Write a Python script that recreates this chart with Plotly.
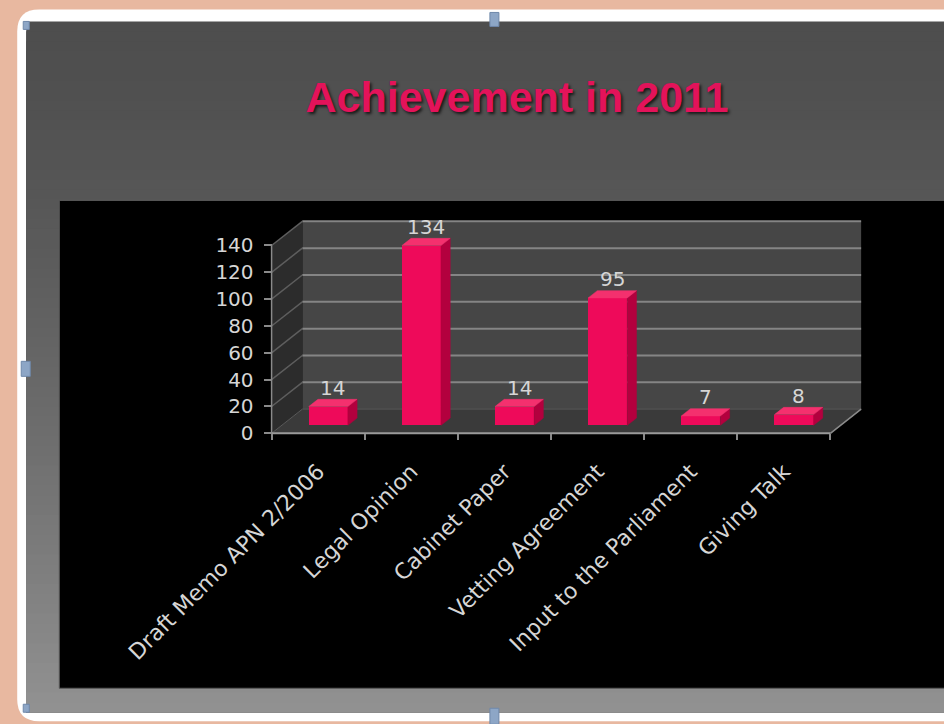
import plotly.graph_objects as go

# ---- chart data ----
categories = ["Draft Memo APN 2/2006", "Legal Opinion", "Cabinet Paper",
              "Vetting Agreement", "Input to the Parliament", "Giving Talk"]
values = [14, 134, 14, 95, 7, 8]
y_ticks = [0, 20, 40, 60, 80, 100, 120, 140]
title_text = "Achievement in 2011"

# ---- page geometry (pixels) ----
W, H = 944, 724
ORIGIN_PX = (272, 433)      # front-left corner of the floor
PX_PER_CAT = 93.0
PX_PER_UNIT = 1.342

# pseudo-3D depth: offset of the back plane, in axis units
DX = 0.33
DY = 18.0
Z0, Z1 = 0.33, 0.63          # depth span occupied by the bars
ZC = (Z0 + Z1) / 2
BAR_W = 0.42
YMAX = y_ticks[-1]
n = len(categories)

x_range = [-0.56, n - 0.5 + DX + 0.02]
y_range = [-2.0, YMAX + DY + 1.0]

L = ORIGIN_PX[0] - (-0.5 - x_range[0]) * PX_PER_CAT
pw = (x_range[1] - x_range[0]) * PX_PER_CAT
R = W - L - pw
bottom_px = ORIGIN_PX[1] + (0 - y_range[0]) * PX_PER_UNIT
B = H - bottom_px
ph = (y_range[1] - y_range[0]) * PX_PER_UNIT
T = H - B - ph


def fx(px):
    return (px - L) / pw


def fy(py):
    return (H - B - py) / ph


# ---- colours ----
SALMON = "#E8B8A0"
FRONT = "#EE0A5A"
SIDE = "#B3003E"
TOP = "#F4306E"
BACK_WALL = "#464646"
SIDE_WALL = "#2c2c2c"
FLOOR = "#3a3a3a"
GRID = "#858585"
TEXT = "#d6d6d6"

shapes = []

# white rounded frame
def rounded_rect(x0, y0, x1, y1, r):
    rx = r / pw
    ry = r / ph
    a0, a1 = fx(x0), fx(x1)
    b0, b1 = fy(y1), fy(y0)  # b0 bottom, b1 top in paper units
    return (f"M {a0 + rx},{b1} L {a1 - rx},{b1} Q {a1},{b1} {a1},{b1 - ry} "
            f"L {a1},{b0 + ry} Q {a1},{b0} {a1 - rx},{b0} L {a0 + rx},{b0} "
            f"Q {a0},{b0} {a0},{b0 + ry} L {a0},{b1 - ry} Q {a0},{b1} {a0 + rx},{b1} Z")

shapes.append(dict(type="path", xref="paper", yref="paper", layer="below",
                   path=rounded_rect(18, 9, 980, 721, 22),
                   fillcolor="#ffffff", line=dict(width=0)))

# grey gradient panel: each band runs to the panel bottom so no seams show
panel_top, panel_bot = 21, 712
nb = 70
for k in range(nb):
    y0 = panel_top + (panel_bot - panel_top) * k / nb
    t = ((k + 0.5) / nb) ** 1.5
    g = int(round(78 + t * (146 - 78)))
    shapes.append(dict(type="rect", xref="paper", yref="paper", layer="below",
                       x0=fx(27), x1=fx(960), y0=fy(panel_bot), y1=fy(y0),
                       fillcolor=f"rgb({g},{g},{g})", line=dict(width=0)))

# black chart area
shapes.append(dict(type="rect", xref="paper", yref="paper", layer="below",
                   x0=fx(60), x1=fx(960), y0=fy(688), y1=fy(200),
                   fillcolor="#000000", line=dict(color="#5a5a5a", width=1)))

# selection handles on the frame
for (hx0, hy0, hx1, hy1) in [(490, 12, 499, 26), (22, 361, 31, 376),
                             (490, 708, 499, 724), (24, 21, 30, 29),
                             (24, 704, 30, 712)]:
    shapes.append(dict(type="rect", xref="paper", yref="paper", layer="below",
                       x0=fx(hx0), x1=fx(hx1), y0=fy(hy1), y1=fy(hy0),
                       fillcolor="#8da6c6", line=dict(color="#6f88aa", width=1)))

# ---- 3D walls in data coordinates ----
xl, xr = -0.5, n - 0.5

def poly(pts):
    return "M " + " L ".join(f"{x},{y}" for x, y in pts) + " Z"

shapes.append(dict(type="path", xref="x", yref="y", layer="below",
                   path=poly([(xl + DX, DY), (xr + DX, DY), (xr + DX, YMAX + DY), (xl + DX, YMAX + DY)]),
                   fillcolor=BACK_WALL, line=dict(width=0)))
shapes.append(dict(type="path", xref="x", yref="y", layer="below",
                   path=poly([(xl, 0), (xl + DX, DY), (xl + DX, YMAX + DY), (xl, YMAX)]),
                   fillcolor=SIDE_WALL, line=dict(width=0)))
shapes.append(dict(type="path", xref="x", yref="y", layer="below",
                   path=poly([(xl, 0), (xr, 0), (xr + DX, DY), (xl + DX, DY)]),
                   fillcolor=FLOOR, line=dict(color="#5a5a5a", width=1)))

for v in y_ticks[1:]:
    shapes.append(dict(type="line", xref="x", yref="y", layer="below",
                       x0=xl + DX, x1=xr + DX, y0=v + DY, y1=v + DY,
                       line=dict(color=GRID, width=2)))
    shapes.append(dict(type="line", xref="x", yref="y", layer="below",
                       x0=xl, x1=xl + DX, y0=v, y1=v + DY,
                       line=dict(color="#5e5e5e", width=1.5)))

# axis edges
shapes.append(dict(type="line", xref="x", yref="y", layer="below",
                   x0=xl, x1=xl, y0=0, y1=YMAX, line=dict(color="#8a8a8a", width=1.5)))
shapes.append(dict(type="line", xref="x", yref="y", layer="below",
                   x0=xl, x1=xr, y0=0, y1=0, line=dict(color="#9a9a9a", width=2)))
shapes.append(dict(type="line", xref="x", yref="y", layer="below",
                   x0=xr, x1=xr + DX, y0=0, y1=DY, line=dict(color="#8a8a8a", width=1.5)))

fig = go.Figure()

# front faces of the bars
fig.add_trace(go.Bar(
    x=[i + Z0 * DX for i in range(n)], y=values, base=Z0 * DY,
    width=BAR_W, marker=dict(color=FRONT, line=dict(width=0)),
    hoverinfo="skip", showlegend=False))

# side and top faces
side_x, side_y, top_x, top_y = [], [], [], []
dz = Z1 - Z0
for i, v in enumerate(values):
    fl = i + Z0 * DX - BAR_W / 2
    fr = i + Z0 * DX + BAR_W / 2
    side_x += [fr, fr + dz * DX, fr + dz * DX, fr, fr, None]
    side_y += [Z0 * DY, Z1 * DY, v + Z1 * DY, v + Z0 * DY, Z0 * DY, None]
    top_x += [fl, fr, fr + dz * DX, fl + dz * DX, fl, None]
    top_y += [v + Z0 * DY, v + Z0 * DY, v + Z1 * DY, v + Z1 * DY, v + Z0 * DY, None]

fig.add_trace(go.Scatter(x=side_x, y=side_y, mode="lines", fill="toself",
                         fillcolor=SIDE, line=dict(color=SIDE, width=0.5),
                         hoverinfo="skip", showlegend=False))
fig.add_trace(go.Scatter(x=top_x, y=top_y, mode="lines", fill="toself",
                         fillcolor=TOP, line=dict(color=TOP, width=0.5),
                         hoverinfo="skip", showlegend=False))

# value labels above the bars
for i, v in enumerate(values):
    fig.add_annotation(x=i + ZC * DX, y=v + ZC * DY, text=str(v), showarrow=False,
                       yshift=15, font=dict(family="DejaVu Sans", size=20, color=TEXT))

fig.update_layout(
    width=W, height=H,
    margin=dict(l=L, r=R, t=T, b=B, pad=0),
    paper_bgcolor=SALMON,
    plot_bgcolor="rgba(0,0,0,0)",
    shapes=shapes,
    bargap=0,
    title=dict(text=f"<b>{title_text}</b>", x=517 / W, xanchor="center",
               y=1 - 97 / H, yanchor="middle", xref="container", yref="container",
               font=dict(family="Liberation Sans", size=43, color="#E3135A",
                         shadow="2px 2px 3px rgba(0,0,0,0.7)")),
    xaxis=dict(range=x_range, showgrid=False, zeroline=False, showline=False,
               tickmode="array", tickvals=list(range(n)), ticktext=categories,
               tickangle=-45, ticks="", ticklabelstandoff=20,
               tickfont=dict(family="DejaVu Sans", size=22, color=TEXT),
               anchor="free", position=fy(ORIGIN_PX[1]),
               minor=dict(tickmode="array", tickvals=[i - 0.5 for i in range(n + 1)],
                          ticks="outside", ticklen=6, tickcolor="#8a8a8a", tickwidth=1.5)),
    yaxis=dict(range=y_range, showgrid=False, zeroline=False, showline=False,
               tickmode="array", tickvals=y_ticks, ticks="outside", ticklen=8,
               tickcolor="#8a8a8a", tickwidth=1.5, ticklabelstandoff=6,
               tickfont=dict(family="DejaVu Sans", size=20, color=TEXT),
               anchor="free", position=fx(ORIGIN_PX[0])),
)

fig.write_html("out.html")
